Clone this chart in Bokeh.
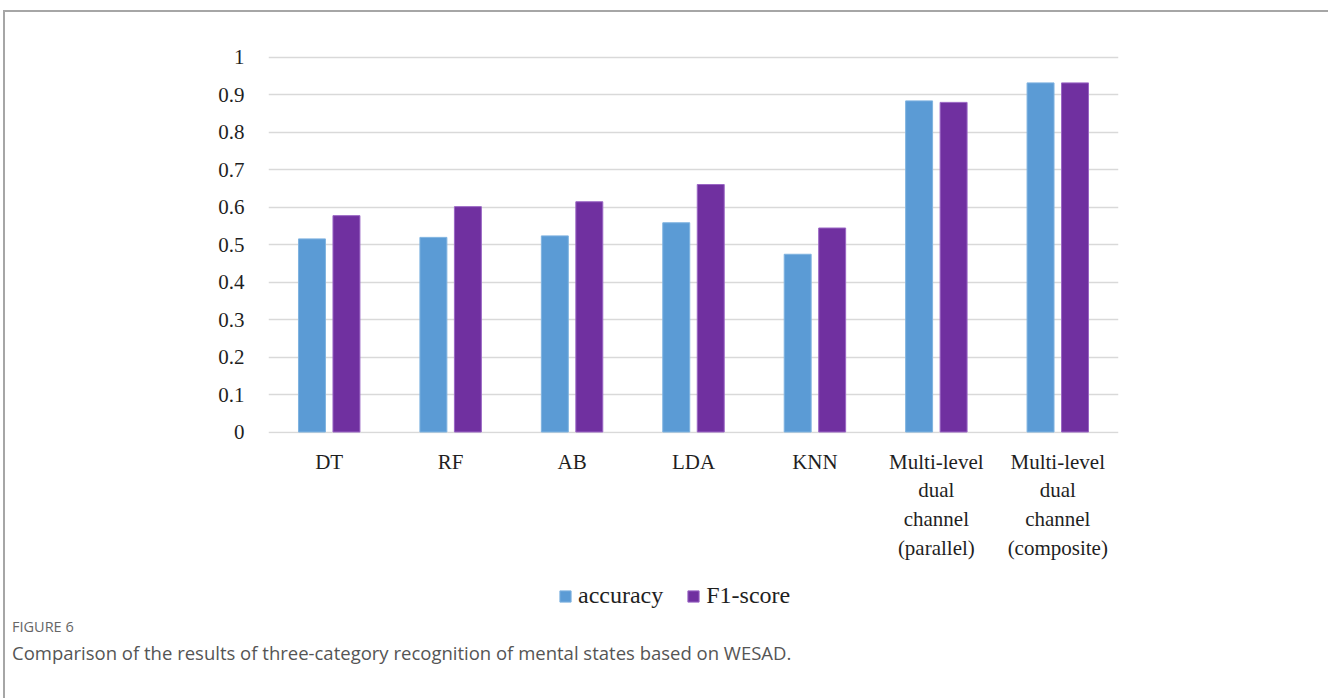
from bokeh.plotting import figure
from bokeh.models import (FactorRange, ColumnDataSource, FixedTicker, Legend, LegendItem,
                          Div, Range1d)
from bokeh.layouts import column
from bokeh.transform import dodge
from bokeh.embed import file_html
from bokeh.resources import INLINE

categories = ["DT", "RF", "AB", "LDA", "KNN",
              "Multi-level\ndual\nchannel\n(parallel)",
              "Multi-level\ndual\nchannel\n(composite)"]
accuracy = [0.515, 0.519, 0.523, 0.558, 0.474, 0.883, 0.931]
f1_score = [0.577, 0.601, 0.614, 0.660, 0.544, 0.879, 0.931]
y_ticks = [0, 0.1, 0.2, 0.3, 0.4, 0.5, 0.6, 0.7, 0.8, 0.9, 1]
y_tick_labels = ["0", "0.1", "0.2", "0.3", "0.4", "0.5", "0.6", "0.7", "0.8", "0.9", "1"]
series_names = ["accuracy", "F1-score"]
caption_label = "FIGURE 6"
caption_text = "Comparison of the results of three-category recognition of mental states based on WESAD."

BLUE = "#5B9BD5"
PURPLE = "#7030A0"
SERIF = "Liberation Serif"
TXT = "#1f1f1f"
FS = "21px"

src = ColumnDataSource(dict(cat=categories, acc=accuracy, f1=f1_score))

# main chart: frame 850 x 378 px
p = figure(x_range=FactorRange(factors=categories, range_padding=0),
           y_range=Range1d(-0.004, 1.004),
           width=1320, height=563,
           min_border_left=263, min_border_top=43,
           min_border_right=207, min_border_bottom=142,
           output_backend="svg", toolbar_location=None,
           outline_line_color=None)

bar_style = dict(width=0.222, source=src, line_width=1)
r1 = p.vbar(x=dodge("cat", -0.142, range=p.x_range), top="acc", bottom=0,
            fill_color=BLUE, line_color="#7fb3e0", **bar_style)
r2 = p.vbar(x=dodge("cat", 0.142, range=p.x_range), top="f1", bottom=0,
            fill_color=PURPLE, line_color="#9a66c4", **bar_style)

# y axis
p.yaxis.ticker = FixedTicker(ticks=y_ticks)
p.yaxis.major_label_overrides = {t: l for t, l in zip(y_ticks, y_tick_labels)}
p.yaxis.axis_line_color = None
p.yaxis.major_tick_line_color = None
p.yaxis.minor_tick_line_color = None
p.yaxis.major_label_standoff = 18
p.yaxis.major_label_text_font = SERIF
p.yaxis.major_label_text_font_size = FS
p.yaxis.major_label_text_color = TXT

# x axis
p.xaxis.axis_line_color = None
p.xaxis.major_tick_line_color = None
p.xaxis.minor_tick_line_color = None
p.xaxis.major_label_standoff = 10
p.xaxis.major_label_text_font = SERIF
p.xaxis.major_label_text_font_size = FS
p.xaxis.major_label_text_color = TXT
p.xaxis.major_label_text_line_height = 1.2
p.xaxis.major_label_orientation = "horizontal"

p.xgrid.grid_line_color = None
p.ygrid.ticker = FixedTicker(ticks=y_ticks)
p.ygrid.grid_line_color = "#d9d9d9"
p.ygrid.grid_line_width = 1.5

# legend strip (a frame-only figure holding the legend); key renderers sit outside its range
pl = figure(width=1320, height=40, x_range=Range1d(0, 1), y_range=Range1d(0, 1),
            x_axis_type=None, y_axis_type=None,
            min_border_left=0, min_border_right=0, min_border_top=0, min_border_bottom=0,
            output_backend="svg", toolbar_location=None, outline_line_color=None)
pl.grid.visible = False
key_src = ColumnDataSource(dict(x=[-1.0], top=[-1.0]))
k1 = pl.vbar(x="x", top="top", bottom=-2, width=0.1, source=key_src,
             fill_color=BLUE, line_color="#7fb3e0")
k2 = pl.vbar(x="x", top="top", bottom=-2, width=0.1, source=key_src,
             fill_color=PURPLE, line_color="#9a66c4")
legend = Legend(items=[LegendItem(label=series_names[0], renderers=[k1]),
                       LegendItem(label=series_names[1], renderers=[k2])],
                orientation="horizontal", location=(290, 6),
                padding=0, margin=0, spacing=23, label_standoff=6,
                glyph_width=14, glyph_height=14,
                label_text_font=SERIF, label_text_font_size="24px",
                label_text_color=TXT, border_line_color=None,
                background_fill_alpha=0)
pl.add_layout(legend)

caption = Div(
    text=(f'<div style="font-family:\'Open Sans\',sans-serif;font-size:14.5px;color:#666666;'
          f'line-height:14px;">{caption_label}</div>'
          f'<div style="font-family:\'Open Sans\',sans-serif;font-size:18.5px;color:#555555;'
          f'line-height:24px;margin-top:7px;">{caption_text}</div>'),
    width=1320, height=76,
    styles={"padding-left": "2px", "box-sizing": "border-box"})

layout = column(p, pl, caption, spacing=0,
                styles={"border-top": "2px solid #a6a6a6",
                        "border-left": "2px solid #a6a6a6",
                        "border-right": "2px solid #a6a6a6",
                        "margin-left": "3px", "margin-top": "10px"})

open("out.html", "w").write(file_html(layout, INLINE))
